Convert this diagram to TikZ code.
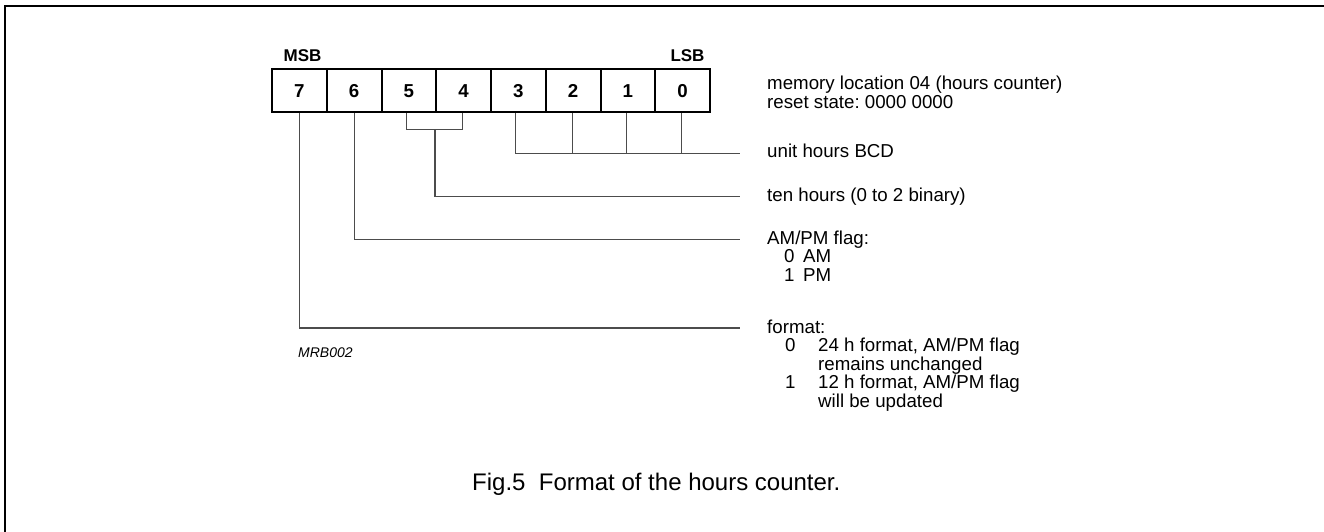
\documentclass[tikz,border=0pt]{standalone}
\usepackage{fontspec}
\setmainfont{Liberation Sans}
\frenchspacing
\begin{document}
\begin{tikzpicture}[x=1pt,y=-1pt,
  cell/.style={draw, line width=2pt, minimum width=54.75pt, minimum height=43pt, inner sep=0pt,
    font=\fontsize{18.7}{18.7}\selectfont\bfseries},
  endlbl/.style={anchor=base, inner sep=0pt, font=\fontsize{17}{17}\selectfont\bfseries},
  lbl/.style={anchor=base west, inner sep=0pt, font=\fontsize{18.7}{18.5}\selectfont},
  conn/.style={line width=1.2pt, black!70}]
\useasboundingbox (0,0) rectangle (1324,532);
\draw[line width=2.2pt] (5,545) -- (5,6) -- (1340,6);

% register cells
\node[cell] (b7) at (299.375,90.8) {7};
\node[cell] (b6) at (354.125,90.8) {6};
\node[cell] (b5) at (408.875,90.8) {5};
\node[cell] (b4) at (463.625,90.8) {4};
\node[cell] (b3) at (518.375,90.8) {3};
\node[cell] (b2) at (573.125,90.8) {2};
\node[cell] (b1) at (627.875,90.8) {1};
\node[cell] (b0) at (682.625,90.8) {0};

\node[endlbl] (msb) at (302.5,62) {MSB};
\node[endlbl] (lsb) at (687.5,62) {LSB};

% labels
\node[lbl] (mem1) at (767,90) {memory location 04 (hours counter)};
\node[lbl] (mem2) at (767,108.5) {reset state: 0000 0000};
\node[lbl] (unit) at (767,157.7) {unit hours BCD};
\node[lbl] (ten) at (767,201) {ten hours (0 to 2 binary)};
\node[lbl] (ampm) at (767,244) {AM/PM flag:};
\node[lbl] (am0) at (784,262.5) {0};
\node[lbl] (am) at (803,262.5) {AM};
\node[lbl] (pm1) at (784,281) {1};
\node[lbl] (pm) at (803,281) {PM};
\node[lbl] (fmt) at (767,333) {format:};
\node[lbl] (f0) at (785,351.5) {0};
\node[lbl] (f0a) at (818,351.5) {24 h format, AM/PM flag};
\node[lbl] (f0b) at (818,370) {remains unchanged};
\node[lbl] (f1) at (785,388.5) {1};
\node[lbl] (f1a) at (818,388.5) {12 h format, AM/PM flag};
\node[lbl] (f1b) at (818,407) {will be updated};

\node[anchor=base west, inner sep=0pt, font=\fontsize{14}{14}\selectfont\itshape] (code) at (298,357) {MRB002};
\node[anchor=base west, inner sep=0pt, font=\fontsize{24}{24}\selectfont] (cap) at (472,490) {Fig.5\ \ Format of the hours counter.};

% connector ends
\coordinate (uend) at (740,153.3);
\coordinate (tend) at (740,196.7);
\coordinate (aend) at (740,239.5);
\coordinate (fend) at (740,328);
\coordinate (br) at (435,129.3);

% connectors
\draw[conn] ([xshift=-3pt]b3.south) -- ([xshift=-3pt]b3.south |- uend) -- (uend);
\draw[conn] ([xshift=-1pt]b2.south) -- ([xshift=-1pt]b2.south |- uend);
\draw[conn] ([xshift=-1pt]b1.south) -- ([xshift=-1pt]b1.south |- uend);
\draw[conn] ([xshift=-1pt]b0.south) -- ([xshift=-1pt]b0.south |- uend);
\draw[conn] ([xshift=-2pt]b5.south) -- ([xshift=-2pt]b5.south |- br) -- ([xshift=-1pt]b4.south |- br) -- ([xshift=-1pt]b4.south);
\draw[conn] (br) -- (br |- tend) -- (tend);
\draw[conn] (b6.south) -- (b6.south |- aend) -- (aend);
\draw[conn] (b7.south) -- (b7.south |- fend) -- (fend);
\end{tikzpicture}
\end{document}
